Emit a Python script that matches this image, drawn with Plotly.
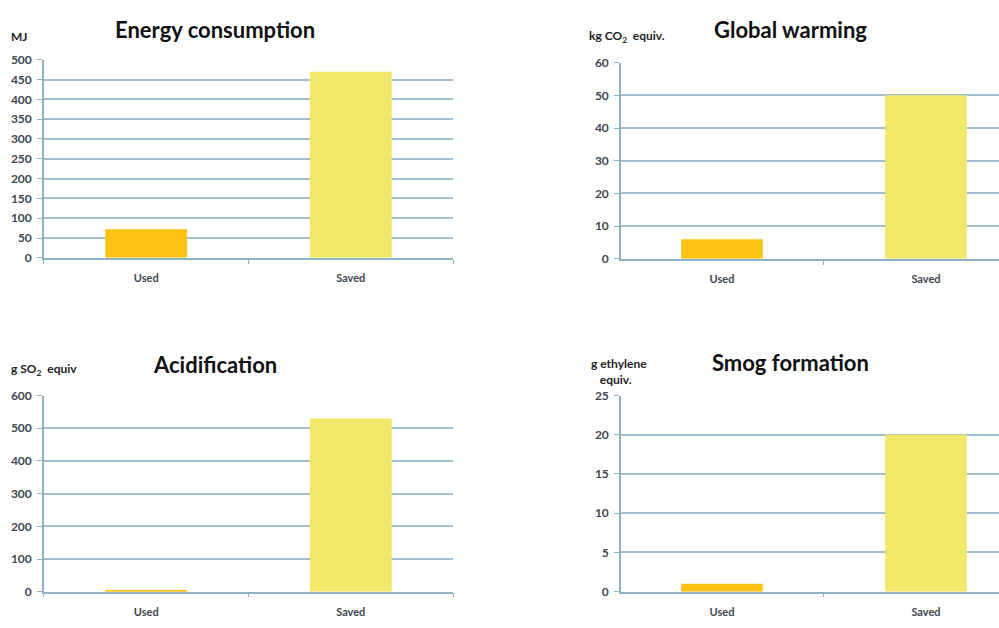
import plotly.graph_objects as go

categories = ["Used", "Saved"]
energy_mj = [72, 470]
global_warming_kg = [6, 50]
acidification_g = [5, 530]
smog_g = [1, 20]

titles = ["Energy consumption", "Global warming", "Acidification", "Smog formation"]
units = ["MJ", "kg CO<sub>2</sub>  equiv.", "g SO<sub>2</sub>  equiv", "g ethylene<br>   equiv."]
y_ranges = [[0, 500], [0, 60], [0, 600], [0, 25]]
y_dtick = [50, 10, 100, 5]
series = [energy_mj, global_warming_kg, acidification_g, smog_g]

bar_colors = ["#FCC214", "#F0E866"]
grid_col = "#A3BFCF"
axis_col = "#8DB2C6"
label_col = "#3E4652"
font_fam = "Lato, 'Open Sans', sans-serif"

xdoms = [[0.044, 0.4535], [0.6216, 1.0], [0.044, 0.4535], [0.6216, 1.0]]
ydoms = [[0.5924, 0.9156], [0.5908, 0.9108], [0.0478, 0.3678], [0.0478, 0.3678]]
xranges = [[-0.5, 1.5], [-0.495, 1.358], [-0.5, 1.5], [-0.495, 1.358]]

fig = go.Figure()
layout = dict(
    width=999, height=628, margin=dict(l=0, r=0, t=0, b=0),
    paper_bgcolor="white", plot_bgcolor="white", showlegend=False,
    font=dict(family=font_fam, color=label_col),
)
annotations = []
for i in range(4):
    s = "" if i == 0 else str(i + 1)
    fig.add_trace(go.Bar(x=categories, y=series[i], marker=dict(color=bar_colors, line=dict(width=0)),
                         width=0.4, xaxis="x" + s, yaxis="y" + s))
    layout["xaxis" + s] = dict(domain=xdoms[i], anchor="y" + s, range=xranges[i], type="category",
                               showline=True, linecolor=axis_col, linewidth=1.5,
                               ticks="outside", tickson="boundaries", ticklen=4, tickcolor=axis_col,
                               ticklabelstandoff=9,
                               showgrid=False, tickfont=dict(size=11, color=label_col, weight="bold"),
                               fixedrange=True)
    layout["yaxis" + s] = dict(domain=ydoms[i], anchor="x" + s, range=y_ranges[i], dtick=y_dtick[i],
                               showline=True, linecolor=axis_col, linewidth=1.5,
                               ticks="outside", ticklen=5, tickcolor=axis_col, ticklabelstandoff=3,
                               showgrid=True, gridcolor=grid_col, gridwidth=1.5, zeroline=False,
                               tickfont=dict(size=12, color=label_col, weight="bold"), fixedrange=True)

def px(x):
    return x / 999

def py(y):
    return 1 - y / 628

title_pos = [(215, 22), (790, 22), (215, 365), (790, 363)]
for i, (tx, ty) in enumerate(title_pos):
    annotations.append(dict(text="<b>" + titles[i] + "</b>", x=px(tx), y=py(ty), xref="paper", yref="paper",
                            showarrow=False, xanchor="center", yanchor="middle",
                            font=dict(size=22, color="#111111", family=font_fam)))
unit_pos = [(9, 29), (587, 29), (9, 370), (589, 372)]
for i, (ux, uy) in enumerate(unit_pos):
    annotations.append(dict(text="<b>" + units[i] + "</b>", x=px(ux), y=py(uy), xref="paper", yref="paper",
                            showarrow=False, xanchor="left", yanchor="middle", align="left",
                            font=dict(size=12, color="#222222", family=font_fam)))
layout["annotations"] = annotations
fig.update_layout(**layout)
fig.write_html("out.html")
